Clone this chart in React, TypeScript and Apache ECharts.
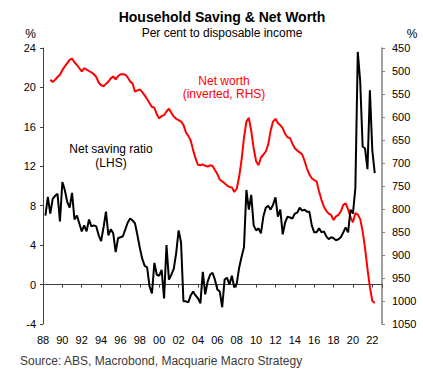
import React, { useEffect, useRef } from 'react';
import * as echarts from 'echarts';

const FONT = '"Liberation Sans", Arial, Helvetica, sans-serif';

// Quarterly, 1988 Q1 .. 2022 Q1 (per cent of disposable income, LHS)
const SAVING_START_YEAR = 1988;
const SAVING_START_Q = 1;
const savingRatio = [
  7.0, 8.9, 7.2, 8.7, // 1988
  9.0, 9.2, 6.4, 10.4, // 1989
  9.6, 8.4, 7.8, 9.3, // 1990
  6.6, 7.0, 6.2, 5.4, // 1991
  6.0, 5.4, 6.6, 5.9, // 1992
  6.0, 5.9, 5.0, 4.4, // 1993
  5.8, 7.4, 5.0, 5.6, // 1994
  5.2, 3.3, 4.7, 4.8, // 1995
  4.9, 5.6, 6.3, 6.7, // 1996
  6.5, 6.2, 5.0, 3.7, // 1997
  2.6, 1.9, 1.75, -0.2, // 1998
  -0.9, 2.2, 1.0, 0.9, // 1999
  1.5, -1.4, 4.0, 0.5, // 2000
  1.0, 1.6, 3.2, 5.5, // 2001
  4.3, -1.7, -1.7, -1.8, // 2002
  -1.1, -0.7, -1.1, -1.4, // 2003
  -1.9, 1.3, -1.0, 0.3, // 2004
  1.0, 1.2, 0.5, -0.5, // 2005
  -0.7, -2.3, 0.5, 0.7, // 2006
  0.0, 0.9, -0.3, 0.1, // 2007
  1.7, 2.8, 3.8, 9.6, // 2008
  7.6, 9.1, 6.0, 5.5, // 2009
  5.7, 5.2, 6.9, 7.8, // 2010
  8.0, 7.6, 8.1, 8.85, // 2011
  6.9, 7.6, 5.1, 6.3, // 2012
  6.9, 6.8, 6.7, 7.2, // 2013
  7.3, 7.8, 7.5, 7.6, // 2014
  7.4, 7.4, 6.0, 5.3, // 2015
  5.3, 5.7, 5.3, 5.4, // 2016
  4.9, 4.6, 4.8, 4.7, // 2017
  4.5, 4.6, 4.8, 5.3, // 2018
  5.8, 5.3, 7.6, 7.2, // 2019
  9.8, 23.6, 20.6, 14.0, // 2020
  13.8, 11.7, 19.7, 13.6, // 2021
  11.3, // 2022
];

// Quarterly, 1988 Q3 .. 2022 Q1 (per cent of disposable income, RHS inverted)
const NET_WORTH_START_YEAR = 1988;
const NET_WORTH_START_Q = 3;
const netWorth = [
  519, 524, // 1988
  519, 513, 508, 498, // 1989
  490, 483, 476, 473, // 1990
  481, 487, 494, 501, // 1991
  494, 497, 500, 503, // 1992
  507, 513, 525, 531, // 1993
  533, 528, 523, 516, // 1994
  512, 518, 511, 507, // 1995
  507, 508, 514, 523, // 1996
  527, 545, 542, 540, // 1997
  546, 553, 561, 570, // 1998
  578, 580, 594, 603, // 1999
  598, 596, 588, 582, // 2000
  591, 599, 604, 607, // 2001
  610, 617, 633, 641, // 2002
  651, 672, 690, 704, // 2003
  705, 703, 706, 708, // 2004
  705, 706, 715, 724, // 2005
  736, 740, 744, 749, // 2006
  752, 753, 763, 756, // 2007
  730, 693, 645, 610, // 2008
  602, 630, 668, 696, // 2009
  705, 688, 682, 675, // 2010
  660, 630, 610, 604, // 2011
  613, 618, 624, 637, // 2012
  644, 646, 658, 668, // 2013
  673, 677, 681, 695, // 2014
  712, 725, 733, 737, // 2015
  740, 762, 780, 795, // 2016
  804, 810, 813, 824, // 2017
  816, 813, 805, 791, // 2018
  788, 801, 818, 829, // 2019
  809, 812, 822, 848, // 2020
  885, 930, 970, 1000, // 2021
  1004, // 2022
];

const X_MIN = 1988;
const X_MAX = 2023;
const LEFT_MIN = -4;
const LEFT_MAX = 24;
const LEFT_STEP = 4;
const RIGHT_MIN = 450;
const RIGHT_MAX = 1050;
const RIGHT_STEP = 50;

function toPoints(values: number[], startYear: number, startQ: number) {
  return values.map((v, i) => {
    const q = startQ - 1 + i; // quarters since start of startYear
    const t = startYear + (q + 1) / 4; // plotted at quarter end
    return [t, v];
  });
}

export default function App() {
  const ref = useRef<HTMLDivElement>(null);

  useEffect(() => {
    document.body.style.margin = '0';
    if (!ref.current) return;
    const chart = echarts.init(ref.current, undefined, { renderer: 'svg' });

    const savingPts = toPoints(savingRatio, SAVING_START_YEAR, SAVING_START_Q);
    const netWorthPts = toPoints(netWorth, NET_WORTH_START_YEAR, NET_WORTH_START_Q);

    const labelStyle = { fontFamily: FONT, fontSize: 11, color: '#000' };

    const text = (
      t: string,
      x: number,
      y: number,
      opts: { font?: string; fill?: string; align?: string } = {}
    ) => ({
      type: 'text',
      x,
      y,
      silent: true,
      style: {
        text: t,
        font: opts.font || `12px ${FONT}`,
        fill: opts.fill || '#000',
        textAlign: opts.align || 'center',
        textVerticalAlign: 'middle',
      },
    });

    chart.setOption({
      animation: false,
      backgroundColor: '#fff',
      grid: { left: 43, right: 41, top: 48, bottom: 47 },
      xAxis: [
        {
          type: 'value',
          min: X_MIN,
          max: X_MAX,
          interval: 2,
          position: 'bottom',
          axisLine: { show: false, onZero: false },
          axisTick: { show: false },
          splitLine: { show: false },
          axisLabel: {
            ...labelStyle,
            margin: 10,
            showMaxLabel: false,
            formatter: (v: number) =>
              v % 2 === 0 && v <= 2022 ? String(v).slice(2) : '',
          },
        },
        {
          type: 'value',
          min: X_MIN,
          max: X_MAX,
          interval: 2,
          position: 'bottom',
          axisLine: {
            show: true,
            onZero: true,
            onZeroAxisIndex: 0,
            lineStyle: { color: '#404040', width: 1 },
          },
          axisTick: { show: true, length: 3, lineStyle: { color: '#404040' } },
          axisLabel: { show: false },
          splitLine: { show: false },
        },
      ],
      yAxis: [
        {
          type: 'value',
          min: LEFT_MIN,
          max: LEFT_MAX,
          interval: LEFT_STEP,
          position: 'left',
          axisLine: { show: true, onZero: false, lineStyle: { color: '#404040', width: 1 } },
          axisTick: { show: true, length: 3, lineStyle: { color: '#404040' } },
          splitLine: { show: false },
          axisLabel: { ...labelStyle, margin: 7, formatter: (v: number) => String(v) },
        },
        {
          type: 'value',
          min: RIGHT_MIN,
          max: RIGHT_MAX,
          interval: RIGHT_STEP,
          inverse: true,
          position: 'right',
          axisLine: { show: true, onZero: false, lineStyle: { color: '#808080', width: 1.5 } },
          axisTick: { show: true, length: 3, lineStyle: { color: '#808080' } },
          splitLine: { show: false },
          axisLabel: { ...labelStyle, margin: 10, formatter: (v: number) => String(v) },
        },
      ],
      series: [
        {
          name: 'Net worth',
          type: 'line',
          xAxisIndex: 0,
          yAxisIndex: 1,
          data: netWorthPts,
          showSymbol: false,
          symbol: 'none',
          lineStyle: { color: '#ff0000', width: 2 },
          z: 2,
        },
        {
          name: 'Net saving ratio',
          type: 'line',
          xAxisIndex: 0,
          yAxisIndex: 0,
          data: savingPts,
          showSymbol: false,
          symbol: 'none',
          lineStyle: { color: '#000000', width: 2 },
          z: 3,
        },
      ],
      graphic: [
        text('Household Saving & Net Worth', 222, 16.5, { font: `bold 14px ${FONT}` }),
        text('Per cent to disposable income', 222, 32.5),
        text('%', 30.5, 34),
        text('%', 412, 34),
        text('Net worth', 224, 81, { fill: '#ff0000' }),
        text('(inverted, RHS)', 224, 94, { fill: '#ff0000' }),
        text('Net saving ratio', 111, 149),
        text('(LHS)', 111, 162.5),
        text('Source: ABS, Macrobond, Macquarie Macro Strategy', 20, 361, {
          fill: '#3a3a3a',
          align: 'left',
        }),
      ],
    });

    return () => {
      chart.dispose();
    };
  }, []);

  return (
    <div
      ref={ref}
      style={{ position: 'absolute', left: 0, top: 0, width: 423, height: 371 }}
    />
  );
}
